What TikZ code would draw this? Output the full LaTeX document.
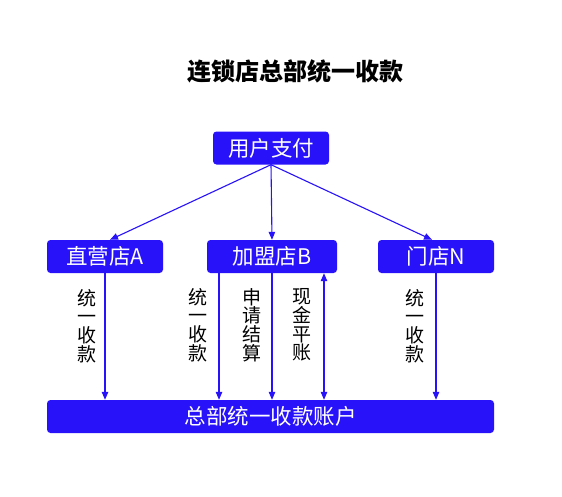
\documentclass[tikz,border=0pt]{standalone}
\usepackage{fontspec}
\newfontfamily\cjk{Noto Sans CJK SC}
\usetikzlibrary{arrows.meta}
\definecolor{blu}{RGB}{40,18,250}
\tikzset{
  box/.style={fill=blu, rounded corners=3.5pt, text=white, inner sep=0pt,
    minimum height=33pt, font=\cjk\fontsize{21.5}{21.5}\selectfont},
  lbl/.style={align=center, inner sep=0pt, font=\cjk\fontsize{19}{18.7}\selectfont},
  tip/.style={Triangle[length=8pt,width=7pt]},
  arr/.style={draw=blu, line width=1.1pt, -{Triangle[length=8pt,width=6.5pt]}},
  arrb/.style={draw=blu, line width=1.1pt, {Triangle[length=8pt,width=6.5pt]}-{Triangle[length=8pt,width=6.5pt]}},
  ttl/.style={font=\cjk\bfseries\fontsize{24}{24}\selectfont, inner sep=0pt}
}
\begin{document}
\begin{tikzpicture}[x=1pt,y=-1pt]
\useasboundingbox[fill=white] (0,0) rectangle (562,496);
\node[ttl] (title) at (295,71) {连锁店总部统一收款};
\node[box, minimum width=116pt] (u) at (271,148) {用户支付};
\node[box, minimum width=116pt] (a) at (105,256.5) {直营店A};
\node[box, minimum width=130pt] (b) at (272,256.5) {加盟店B};
\node[box, minimum width=116pt] (n) at (436,256.5) {门店N};
\node[box, minimum width=447pt] (hq) at (270.5,416.5) {总部统一收款账户};
% top arrows
\draw[arr] (u.south) -- ([xshift=5pt]a.north);
\draw[arr] (u.south) -- (b.north);
\draw[arr] (u.south) -- ([xshift=-4pt]n.north);
% down arrows
\draw[arr] (a.south) -- (a.south |- hq.north);
\draw[arr] ([xshift=-53pt]b.south) -- ([xshift=-53pt]b.south |- hq.north);
\draw[arr] (b.south) -- (b.south |- hq.north);
\draw[arrb] ([xshift=52pt]b.south) -- ([xshift=52pt]b.south |- hq.north);
\draw[arr] (n.south) -- (n.south |- hq.north);
% labels
\node[lbl] (la) at (87,326) {统\\一\\收\\款};
\node[lbl] (lb1) at (198,325) {统\\一\\收\\款};
\node[lbl] (lb2) at (252,325) {申\\请\\结\\算};
\node[lbl] (lb3) at (302,325) {现\\金\\平\\账};
\node[lbl] (ln) at (415,326) {统\\一\\收\\款};
\end{tikzpicture}
\end{document}
